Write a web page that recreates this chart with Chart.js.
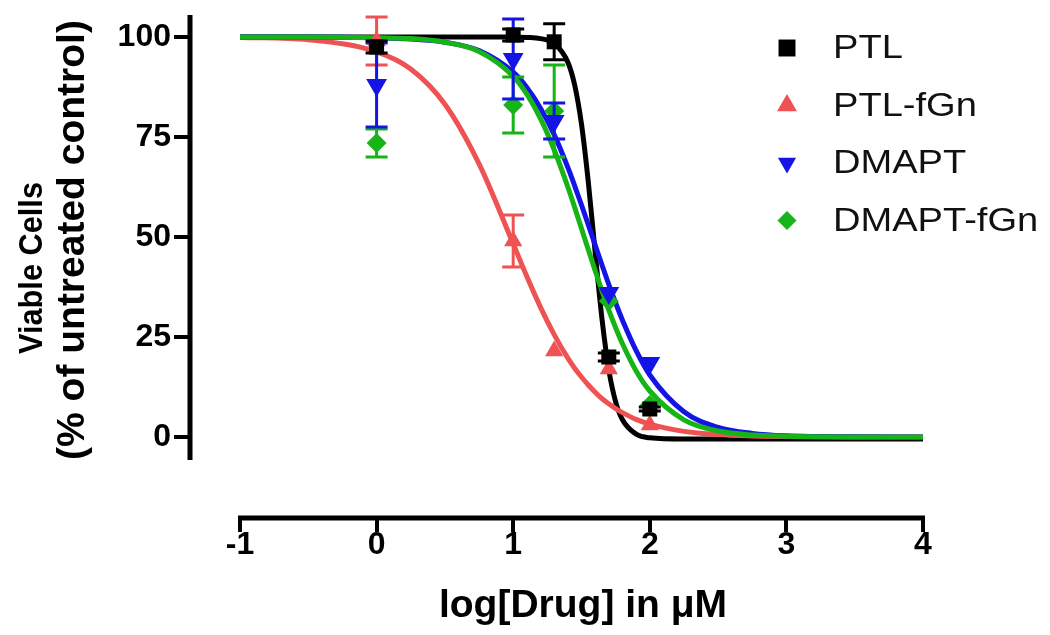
<!DOCTYPE html>
<html lang="en">
<head>
<meta charset="UTF-8">
<title>Viable cells vs log[Drug]</title>
<script src="https://cdn.jsdelivr.net/npm/chart.js"></script>
<style>
  html, body { margin: 0; padding: 0; background: #fff; }
  #wrap { width: 1050px; height: 635px; }
</style>
</head>
<body>
<div id="wrap"><canvas id="doseChart" width="1050" height="635"></canvas></div>
<script>
// series
const seriesNames = ['PTL', 'PTL-fGn', 'DMAPT', 'DMAPT-fGn'];
const seriesColors = ['#000000', '#ef5252', '#1414e6', '#16b416'];

// measured points (log10 of dose in uM), mean and error
const logDose = [0, 1, 1.3, 1.7, 2];
const ptlMean = [97.5, 100.5, 98.8, 20, 7];
const ptlErr = [1.5, 1.5, 4.5, 1, 0.5];
const ptlFgnMean = [99, 49, 21.5, 17, 3];
const ptlFgnErr = [6, 6.5, 0, 0, 0];
const dmaptMean = [88, 94.5, 79, 36, 18.5];
const dmaptErr = [10.5, 10, 4.5, 0, 0];
const dmaptFgnMean = [73.5, 83, 81.5, 34, 8];
const dmaptFgnErr = [3.5, 7, 11.5, 0, 0];

// fitted curves
const curveX = [-1, -0.5, 0, 0.25, 0.5, 0.75, 1, 1.1, 1.2, 1.3, 1.4, 1.45, 1.5, 1.55, 1.6, 1.65, 1.7, 1.75, 1.8, 1.9, 2, 2.25, 2.5, 2.75, 3, 3.5, 4];
const ptlFit = [100, 100, 100, 100, 100, 100, 100, 99.9, 99.6, 98.4, 93.7, 88.0, 78.2, 63.7, 46.2, 29.5, 16.8, 8.8, 4.3, 0.7, -0.2, -0.5, -0.5, -0.5, -0.5, -0.5, -0.5];
const ptlFgnFit = [99.9, 99.3, 96.3, 92.0, 83.2, 68.3, 48.3, 40.1, 32.4, 25.6, 19.7, 17.2, 15.0, 13.0, 11.2, 9.6, 8.3, 7.1, 6.1, 4.4, 3.2, 1.4, 0.6, 0.27, 0.12, 0.02, 0];
const dmaptFit = [100, 100, 99.8, 99.5, 98.7, 96.6, 91.2, 87.4, 82.2, 75.6, 67.4, 62.8, 58.0, 53.0, 48.0, 43.0, 38.1, 33.5, 29.2, 21.6, 15.5, 6.3, 2.4, 0.9, 0.3, 0.04, 0];
const dmaptFgnFit = [100, 100, 99.8, 99.6, 98.7, 96.4, 90.2, 85.7, 79.6, 71.8, 62.5, 57.4, 52.1, 46.8, 41.6, 36.5, 31.7, 27.3, 23.3, 16.5, 11.5, 4.3, 1.5, 0.5, 0.2, 0.02, 0];

// axes
const xTicks = [-1, 0, 1, 2, 3, 4];
const yTicks = [0, 25, 50, 75, 100];

const FONT = "'Liberation Sans', Arial, Helvetica, sans-serif";

function toXY(xs, ys) {
  return xs.map((x, i) => ({ x: x, y: ys[i] }));
}

const means = [ptlMean, ptlFgnMean, dmaptMean, dmaptFgnMean];
const errs = [ptlErr, ptlFgnErr, dmaptErr, dmaptFgnErr];
const fits = [ptlFit, ptlFgnFit, dmaptFit, dmaptFgnFit];
const styles = [
  { pointStyle: 'rect', rotation: 0, radius: 10.6 },
  { pointStyle: 'triangle', rotation: 0, radius: 10.5 },
  { pointStyle: 'triangle', rotation: 180, radius: 12 },
  { pointStyle: 'rectRot', rotation: 0, radius: 10 }
];
// lower order is drawn on top
const curveOrder = [13, 12, 11, 10];
const pointOrder = [0, 2, 1, 3];

const datasets = [];
seriesNames.forEach((name, i) => {
  datasets.push({
    type: 'line',
    label: name + ' fit',
    data: toXY(curveX, fits[i]),
    borderColor: seriesColors[i],
    borderWidth: 5,
    pointRadius: 0,
    cubicInterpolationMode: 'monotone',
    fill: false,
    order: curveOrder[i]
  });
  datasets.push({
    type: 'scatter',
    label: name,
    data: toXY(logDose, means[i]),
    errors: errs[i],
    backgroundColor: seriesColors[i],
    borderWidth: 0,
    pointStyle: styles[i].pointStyle,
    rotation: styles[i].rotation,
    pointRadius: styles[i].radius,
    clip: false,
    order: pointOrder[i]
  });
});

const errorBars = {
  id: 'errorBars',
  beforeDatasetDraw(chart, args) {
    const ds = chart.data.datasets[args.index];
    if (!ds.errors) return;
    const { ctx, scales: { x, y } } = chart;
    ctx.save();
    ctx.strokeStyle = ds.backgroundColor;
    ctx.lineWidth = 3;
    ds.data.forEach((p, j) => {
      const e = ds.errors[j];
      if (!e) return;
      const px = x.getPixelForValue(p.x);
      const top = y.getPixelForValue(p.y + e);
      const bot = y.getPixelForValue(p.y - e);
      ctx.beginPath();
      ctx.moveTo(px, top); ctx.lineTo(px, bot);
      ctx.moveTo(px - 11, top); ctx.lineTo(px + 11, top);
      ctx.moveTo(px - 11, bot); ctx.lineTo(px + 11, bot);
      ctx.stroke();
    });
    ctx.restore();
  }
};

const axisLines = {
  id: 'axisLines',
  afterDraw(chart) {
    const { ctx, chartArea, scales: { x, y } } = chart;
    ctx.save();
    ctx.strokeStyle = '#000';
    ctx.lineWidth = 5;
    ctx.beginPath();
    ctx.moveTo(chartArea.left, y.getPixelForValue(105.5));
    ctx.lineTo(chartArea.left, y.getPixelForValue(-5.75));
    ctx.moveTo(x.getPixelForValue(-1) - 2, chartArea.bottom);
    ctx.lineTo(x.getPixelForValue(4) + 2, chartArea.bottom);
    ctx.stroke();

    ctx.fillStyle = '#000';
    ctx.textAlign = 'center';
    ctx.textBaseline = 'middle';

    // x title
    ctx.font = 'bold 39px ' + FONT;
    ctx.fillText('log[Drug] in \u03bcM', 583, 606, 302);

    // y title, two lines
    ctx.translate(33, 268);
    ctx.rotate(-Math.PI / 2);
    ctx.font = 'bold 34px ' + FONT;
    ctx.fillText('Viable Cells', 0, 0, 172);
    ctx.font = 'bold 39px ' + FONT;
    ctx.fillText('(% of untreated control)', 28, 40, 452);
    ctx.restore();
  }
};

function drawMarker(ctx, style, cx, cy, r) {
  ctx.beginPath();
  if (style === 'square') {
    const s = r * Math.SQRT1_2;
    ctx.rect(cx - s, cy - s, 2 * s, 2 * s);
  } else if (style === 'up') {
    ctx.moveTo(cx, cy - r);
    ctx.lineTo(cx + r * 0.866, cy + r * 0.5);
    ctx.lineTo(cx - r * 0.866, cy + r * 0.5);
  } else if (style === 'down') {
    ctx.moveTo(cx, cy + r);
    ctx.lineTo(cx + r * 0.866, cy - r * 0.5);
    ctx.lineTo(cx - r * 0.866, cy - r * 0.5);
  } else {
    ctx.moveTo(cx, cy - r);
    ctx.lineTo(cx + r, cy);
    ctx.lineTo(cx, cy + r);
    ctx.lineTo(cx - r, cy);
  }
  ctx.closePath();
  ctx.fill();
}

const legendMarks = ['square', 'up', 'down', 'diamond'];
const legendRadius = [12, 11.5, 10.5, 9.5];

const sideLegend = {
  id: 'sideLegend',
  afterDraw(chart) {
    const ctx = chart.ctx;
    ctx.save();
    ctx.font = '34px ' + FONT;
    ctx.textBaseline = 'middle';
    ctx.textAlign = 'left';
    seriesNames.forEach((name, i) => {
      const cy = 48 + i * 57.5;
      ctx.fillStyle = seriesColors[i];
      drawMarker(ctx, legendMarks[i], 787, cy, legendRadius[i]);
      ctx.fillStyle = '#111';
      ctx.save();
      ctx.translate(833, cy + 1);
      ctx.scale(1.12, 1);
      ctx.fillText(name, 0, 0);
      ctx.restore();
    });
    ctx.restore();
  }
};

new Chart(document.getElementById('doseChart'), {
  type: 'scatter',
  data: { datasets: datasets },
  options: {
    responsive: false,
    animation: false,
    devicePixelRatio: 1,
    layout: { padding: { left: 0, right: 127, top: 15, bottom: 0 } },
    plugins: {
      legend: { display: false },
      tooltip: { enabled: false }
    },
    scales: {
      x: {
        type: 'linear',
        min: -1.366,
        max: 4,
        afterBuildTicks: s => { s.ticks = xTicks.map(v => ({ value: v })); },
        afterFit: s => { s.height = 117; s.paddingLeft = 0; s.paddingRight = 0; },
        border: { display: false },
        grid: { drawOnChartArea: false, drawTicks: true, tickLength: 14, lineWidth: 4, color: '#000' },
        ticks: {
          padding: -6,
          color: '#000',
          font: { family: FONT, size: 32, weight: 'bold' }
        }
      },
      y: {
        type: 'linear',
        min: -20.25,
        max: 105.5,
        afterBuildTicks: s => { s.ticks = yTicks.map(v => ({ value: v })); },
        afterFit: s => { s.width = 190; s.paddingTop = 0; s.paddingBottom = 0; },
        border: { display: false },
        grid: { drawOnChartArea: false, drawTicks: true, tickLength: 16, lineWidth: 4, color: '#000' },
        ticks: {
          padding: 3,
          color: '#000',
          font: { family: FONT, size: 32, weight: 'bold' }
        }
      }
    }
  },
  plugins: [errorBars, axisLines, sideLegend]
});
</script>
</body>
</html>
